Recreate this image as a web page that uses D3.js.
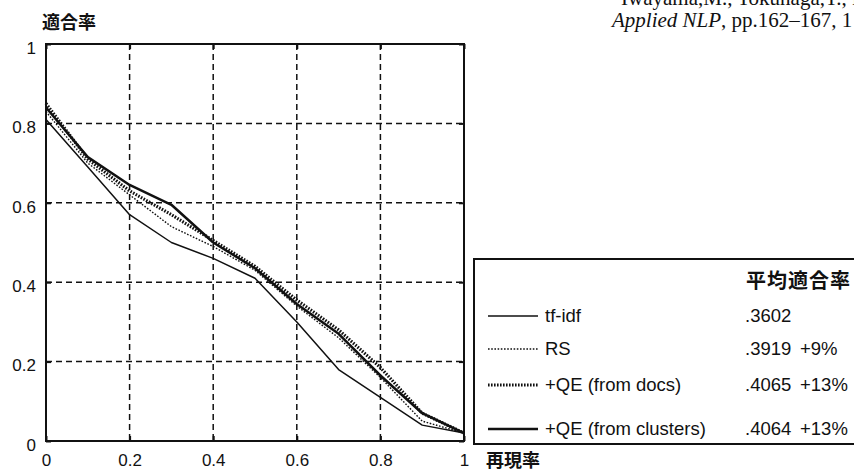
<!DOCTYPE html>
<html>
<head>
<meta charset="utf-8">
<script src="https://cdn.jsdelivr.net/npm/d3@7"></script>
<style>
  body { margin: 0; background: #fff; }
  svg { display: block; }
</style>
</head>
<body>
<svg id="chart" width="854" height="470"></svg>
<script>
'use strict'

// recall levels (11-point) and precision per method
const recall = [0, 0.1, 0.2, 0.3, 0.4, 0.5, 0.6, 0.7, 0.8, 0.9, 1.0]
const tfidf = [0.81, 0.69, 0.57, 0.50, 0.46, 0.41, 0.30, 0.18, 0.11, 0.04, 0.02]
const rs = [0.83, 0.70, 0.62, 0.54, 0.49, 0.43, 0.34, 0.26, 0.16, 0.05, 0.02]
const qeDocs = [0.85, 0.71, 0.63, 0.57, 0.505, 0.44, 0.355, 0.28, 0.185, 0.07, 0.02]
const qeClusters = [0.84, 0.715, 0.645, 0.595, 0.50, 0.435, 0.345, 0.27, 0.165, 0.07, 0.02]

const seriesNames = ['tf-idf', 'RS', '+QE (from docs)', '+QE (from clusters)']
const avgPrecision = ['.3602', '.3919', '.4065', '.4064']
const gains = ['', '+9%', '+13%', '+13%']

const xTicks = [0, 0.2, 0.4, 0.6, 0.8, 1]
const yTicks = [0, 0.2, 0.4, 0.6, 0.8, 1]

const citation = ['Iwayama,M., Tokunaga,T., F', 'Applied NLP', ', pp.162\u2013167, 1']

const latin = 'Liberation Sans, Arial, sans-serif'
const cjk = '"Noto Sans CJK JP", sans-serif'

const svg = d3.select('#chart')

const x = d3.scaleLinear().domain([0, 1]).range([46, 464])
const y = d3.scaleLinear().domain([0, 1]).range([441, 44])

// dashed grid
const grid = svg.append('g')
  .attr('stroke', '#111')
  .attr('stroke-width', 1.5)
  .attr('stroke-dasharray', '6,4')

grid.selectAll('line.v')
  .data(xTicks.slice(1, -1))
  .join('line')
  .attr('class', 'v')
  .attr('x1', d => x(d)).attr('x2', d => x(d))
  .attr('y1', y(1)).attr('y2', y(0))

grid.selectAll('line.h')
  .data(yTicks.slice(1, -1))
  .join('line')
  .attr('class', 'h')
  .attr('x1', x(0)).attr('x2', x(1))
  .attr('y1', d => y(d)).attr('y2', d => y(d))

// axes with inward ticks
svg.append('g')
  .attr('transform', `translate(0,${y(0)})`)
  .call(d3.axisBottom(x).tickValues(xTicks).tickFormat(d3.format('')).tickSize(-5).tickSizeOuter(0).tickPadding(13))

svg.append('g')
  .attr('transform', `translate(0,${y(1)})`)
  .call(d3.axisTop(x).tickValues(xTicks).tickFormat('').tickSize(-5).tickSizeOuter(0))

const yAxis = svg.append('g')
  .attr('transform', `translate(${x(0)},0)`)
  .call(d3.axisLeft(y).tickValues(yTicks).tickFormat(d3.format('')).tickSize(-5).tickSizeOuter(0).tickPadding(10))

svg.append('g')
  .attr('transform', `translate(${x(1)},0)`)
  .call(d3.axisRight(y).tickValues(yTicks).tickFormat('').tickSize(-5).tickSizeOuter(0))

svg.selectAll('.domain').remove()
svg.selectAll('.tick line').attr('stroke', '#111').attr('stroke-width', 2)
svg.selectAll('.tick text')
  .attr('fill', '#111')
  .style('font-family', latin)
  .style('font-size', '17px')
yAxis.selectAll('.tick text').attr('dy', '0.55em')

// frame
svg.append('rect')
  .attr('x', x(0)).attr('y', y(1))
  .attr('width', x(1) - x(0)).attr('height', y(0) - y(1))
  .attr('fill', 'none')
  .attr('stroke', '#111')
  .attr('stroke-width', 2)

// series
const styles = [
  { width: 1.5, dash: null },
  { width: 1.4, dash: '1.6,1.6' },
  { width: 3.2, dash: '1.6,1.4' },
  { width: 2.5, dash: null }
]
const seriesData = [tfidf, rs, qeDocs, qeClusters]

const line = d3.line()
  .x((d, i) => x(recall[i]))
  .y(d => y(d))

svg.append('g')
  .selectAll('path')
  .data(seriesData)
  .join('path')
  .attr('d', d => line(d))
  .attr('fill', 'none')
  .attr('stroke', '#111')
  .attr('stroke-width', (d, i) => styles[i].width)
  .attr('stroke-dasharray', (d, i) => styles[i].dash)
  .attr('stroke-linejoin', 'round')

// axis titles
svg.append('text')
  .attr('x', 42).attr('y', 29)
  .style('font-family', cjk).style('font-size', '18px').style('font-weight', 'bold')
  .attr('fill', '#111')
  .text('適合率')

svg.append('text')
  .attr('x', 486).attr('y', 467)
  .style('font-family', cjk).style('font-size', '18px').style('font-weight', 'bold')
  .attr('fill', '#111')
  .text('再現率')

// legend
const legend = svg.append('g')
legend.append('rect')
  .attr('x', 474).attr('y', 259)
  .attr('width', 420).attr('height', 185)
  .attr('fill', '#fff')
  .attr('stroke', '#111')
  .attr('stroke-width', 2)

legend.append('text')
  .attr('x', 746).attr('y', 288)
  .style('font-family', cjk).style('font-size', '20px').style('font-weight', 'bold')
  .style('letter-spacing', '1px')
  .attr('fill', '#111')
  .text('平均適合率')

const rowBase = [322, 355, 391, 435]

const rows = legend.selectAll('g.row')
  .data(seriesNames)
  .join('g')
  .attr('class', 'row')
  .attr('transform', (d, i) => `translate(0,${rowBase[i]})`)

rows.append('line')
  .attr('x1', 488).attr('x2', 538)
  .attr('y1', -6).attr('y2', -6)
  .attr('stroke', '#111')
  .attr('stroke-width', (d, i) => styles[i].width)
  .attr('stroke-dasharray', (d, i) => styles[i].dash)

rows.append('text')
  .attr('x', 545)
  .style('font-family', latin).style('font-size', '18.5px')
  .attr('fill', '#111')
  .text(d => d)

rows.append('text')
  .attr('x', 745)
  .style('font-family', latin).style('font-size', '18.5px')
  .attr('fill', '#111')
  .text((d, i) => avgPrecision[i])

rows.append('text')
  .attr('x', 800)
  .style('font-family', latin).style('font-size', '18.5px')
  .attr('fill', '#111')
  .text((d, i) => gains[i])

// citation (cut off at the page edge, as in the source)
const cite = svg.append('text')
  .style('font-family', 'Liberation Serif, Times New Roman, serif')
  .style('font-size', '21px')
  .attr('fill', '#111')

cite.append('tspan').attr('x', 621).attr('y', 5).text(citation[0])
cite.append('tspan').attr('x', 612).attr('y', 27)
  .style('font-style', 'italic').text(citation[1])
cite.append('tspan').text(citation[2])
</script>
</body>
</html>
